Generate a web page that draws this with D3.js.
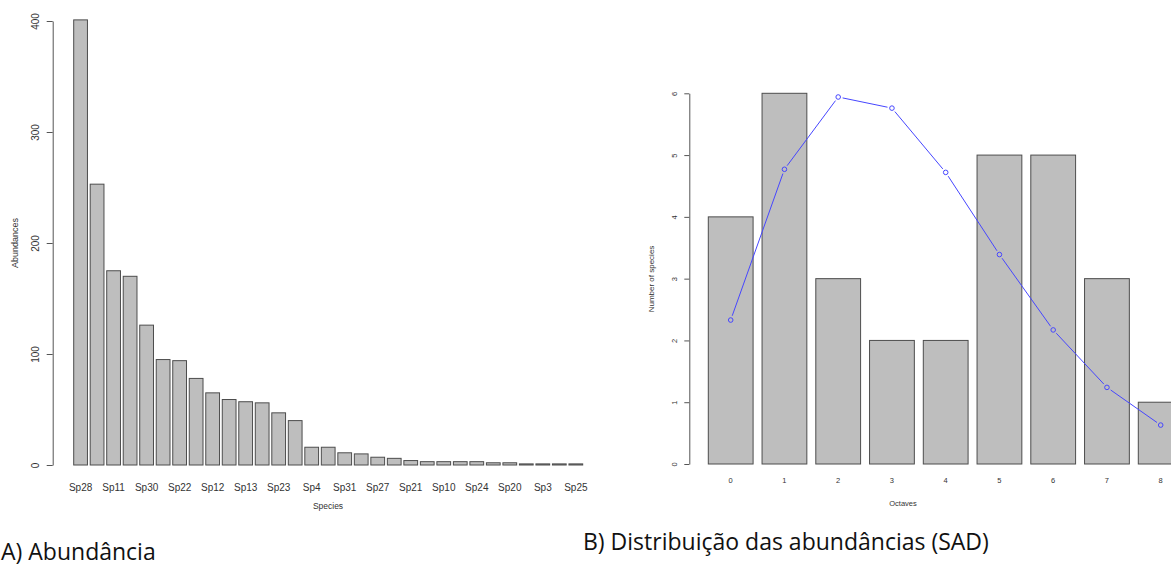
<!DOCTYPE html>
<html>
<head>
<meta charset="utf-8">
<script src="https://cdn.jsdelivr.net/npm/d3@7"></script>
<style>
  body { margin: 0; background: #fff; }
  svg { display: block; }
</style>
</head>
<body>
<div id="chart"></div>
<script>
// A) abundance per species (ranked)
const species = ["Sp28","Sp6","Sp11","Sp19","Sp30","Sp2","Sp22","Sp15","Sp12","Sp7",
  "Sp13","Sp17","Sp23","Sp9","Sp4","Sp1","Sp31","Sp14","Sp27","Sp5","Sp21","Sp18",
  "Sp10","Sp8","Sp24","Sp26","Sp20","Sp16","Sp3","Sp29","Sp25"];
const abundances = [401,253,175,170,126,95,94,78,65,59,57,56,47,40,16,16,11,10,7,6,4,3,3,3,3,2,2,1,1,1,1];
const abundTicks = [0,100,200,300,400];

// B) species abundance distribution (octaves)
const octaves = ["0","1","2","3","4","5","6","7","8"];
const nSpecies = [4,6,3,2,2,5,5,3,1];
const fitted = [2.33,4.77,5.94,5.76,4.72,3.39,2.17,1.24,0.63];
const sadTicks = [0,1,2,3,4,5,6];

const W = 1171, H = 567;
const svg = d3.select("#chart").append("svg")
    .attr("width", W).attr("height", H);

const barFill = "#bebebe", barStroke = "#4d4d4d", txt = "#333";

// ---------- left chart ----------
const xA = d3.scaleBand().domain(species).range([73.7, 582.7])
    .paddingInner(1/6).paddingOuter(0);
const yA = d3.scaleLinear().domain([0,400]).range([465, 21]);

const gA = svg.append("g");
gA.selectAll(".bar").data(species).enter().append("rect")
    .attr("class","bar")
    .attr("x", d => xA(d))
    .attr("y", (d,i) => yA(abundances[i]))
    .attr("width", xA.bandwidth())
    .attr("height", (d,i) => yA(0) - yA(abundances[i]))
    .style("fill", barFill).style("stroke", barStroke).style("stroke-width", 1);

const yAxA = gA.append("g")
    .attr("transform","translate(52.7,0)")
    .call(d3.axisLeft(yA).tickValues(abundTicks).tickFormat(d3.format("d"))
        .tickSize(6).tickSizeOuter(0));
yAxA.selectAll("path,line").attr("stroke","#555");
yAxA.selectAll("text")
    .attr("x",0).attr("dy","0.35em").attr("y",-17)
    .attr("transform","rotate(-90)")
    .style("text-anchor","middle").style("font-family","Liberation Sans")
    .style("font-size","10px").attr("fill",txt);

const xAxA = gA.append("g")
    .attr("transform","translate(0,465)")
    .call(d3.axisBottom(xA).tickValues(species.filter((d,i) => i % 2 === 0))
        .tickSize(0).tickPadding(19));
xAxA.select(".domain").remove();
xAxA.selectAll("text").style("font-family","Liberation Sans")
    .style("font-size","10px").attr("fill",txt);

gA.append("text")
    .attr("transform","translate(18,243) rotate(-90)")
    .style("text-anchor","middle").style("font-family","Liberation Sans")
    .style("font-size","9px").attr("fill",txt)
    .text("Abundances");
gA.append("text")
    .attr("x",328).attr("y",509)
    .style("text-anchor","middle").style("font-family","Liberation Sans")
    .style("font-size","8.5px").attr("fill",txt)
    .text("Species");

// ---------- right chart ----------
const xB = d3.scaleBand().domain(octaves).range([708.3, 708.3 + 53.75*(9 - 1/6)])
    .paddingInner(1/6).paddingOuter(0);
const yB = d3.scaleLinear().domain([0,6]).range([464, 93.3]);

const gB = svg.append("g");
gB.selectAll(".bar").data(octaves).enter().append("rect")
    .attr("class","bar")
    .attr("x", d => xB(d))
    .attr("y", (d,i) => yB(nSpecies[i]))
    .attr("width", xB.bandwidth())
    .attr("height", (d,i) => yB(0) - yB(nSpecies[i]))
    .style("fill", barFill).style("stroke", barStroke).style("stroke-width", 1);

const yAxB = gB.append("g")
    .attr("transform","translate(689.3,0)")
    .call(d3.axisLeft(yB).tickValues(sadTicks).tickFormat(d3.format("d"))
        .tickSize(5).tickSizeOuter(0));
yAxB.selectAll("path,line").attr("stroke","#555");
yAxB.selectAll("text")
    .attr("x",0).attr("dy","0.35em").attr("y",-15)
    .attr("transform","rotate(-90)")
    .style("text-anchor","middle").style("font-family","Liberation Sans")
    .style("font-size","7.5px").attr("fill",txt);

const xAxB = gB.append("g")
    .attr("transform","translate(0,464)")
    .call(d3.axisBottom(xB).tickSize(0).tickPadding(14));
xAxB.select(".domain").remove();
xAxB.selectAll("text").style("font-family","Liberation Sans")
    .style("font-size","7.5px").attr("fill",txt);

gB.append("text")
    .attr("transform","translate(654,279) rotate(-90)")
    .style("text-anchor","middle").style("font-family","Liberation Sans")
    .style("font-size","8px").attr("fill",txt)
    .text("Number of species");
gB.append("text")
    .attr("x",903).attr("y",506)
    .style("text-anchor","middle").style("font-family","Liberation Sans")
    .style("font-size","7.5px").attr("fill",txt)
    .text("Octaves");

// fitted curve, R type = "b" (segments stop short of the points)
const pts = octaves.map((d,i) => [xB(d) + xB.bandwidth()/2, yB(fitted[i])]);
const gap = 4.5;
const segs = d3.pairs(pts).map(([a,b]) => {
  const dx = b[0]-a[0], dy = b[1]-a[1], len = Math.hypot(dx,dy);
  const ux = dx/len, uy = dy/len;
  return [a[0]+ux*gap, a[1]+uy*gap, b[0]-ux*gap, b[1]-uy*gap];
});
gB.selectAll(".seg").data(segs).enter().append("line")
    .attr("class","seg")
    .attr("x1",d=>d[0]).attr("y1",d=>d[1]).attr("x2",d=>d[2]).attr("y2",d=>d[3])
    .style("stroke","#4646ff").style("stroke-width",1);
gB.selectAll(".pt").data(pts).enter().append("circle")
    .attr("class","pt")
    .attr("cx",d=>d[0]).attr("cy",d=>d[1]).attr("r",2.3)
    .style("fill","none").style("stroke","#4646ff").style("stroke-width",1);

// captions
svg.append("text").attr("x",1).attr("y",560)
    .style("font-family","Open Sans").style("font-size","23px").attr("fill","#111")
    .text("A) Abundância");
svg.append("text").attr("x",583).attr("y",550)
    .style("font-family","Open Sans").style("font-size","23px").attr("fill","#111")
    .text("B) Distribuição das abundâncias (SAD)");
</script>
</body>
</html>
